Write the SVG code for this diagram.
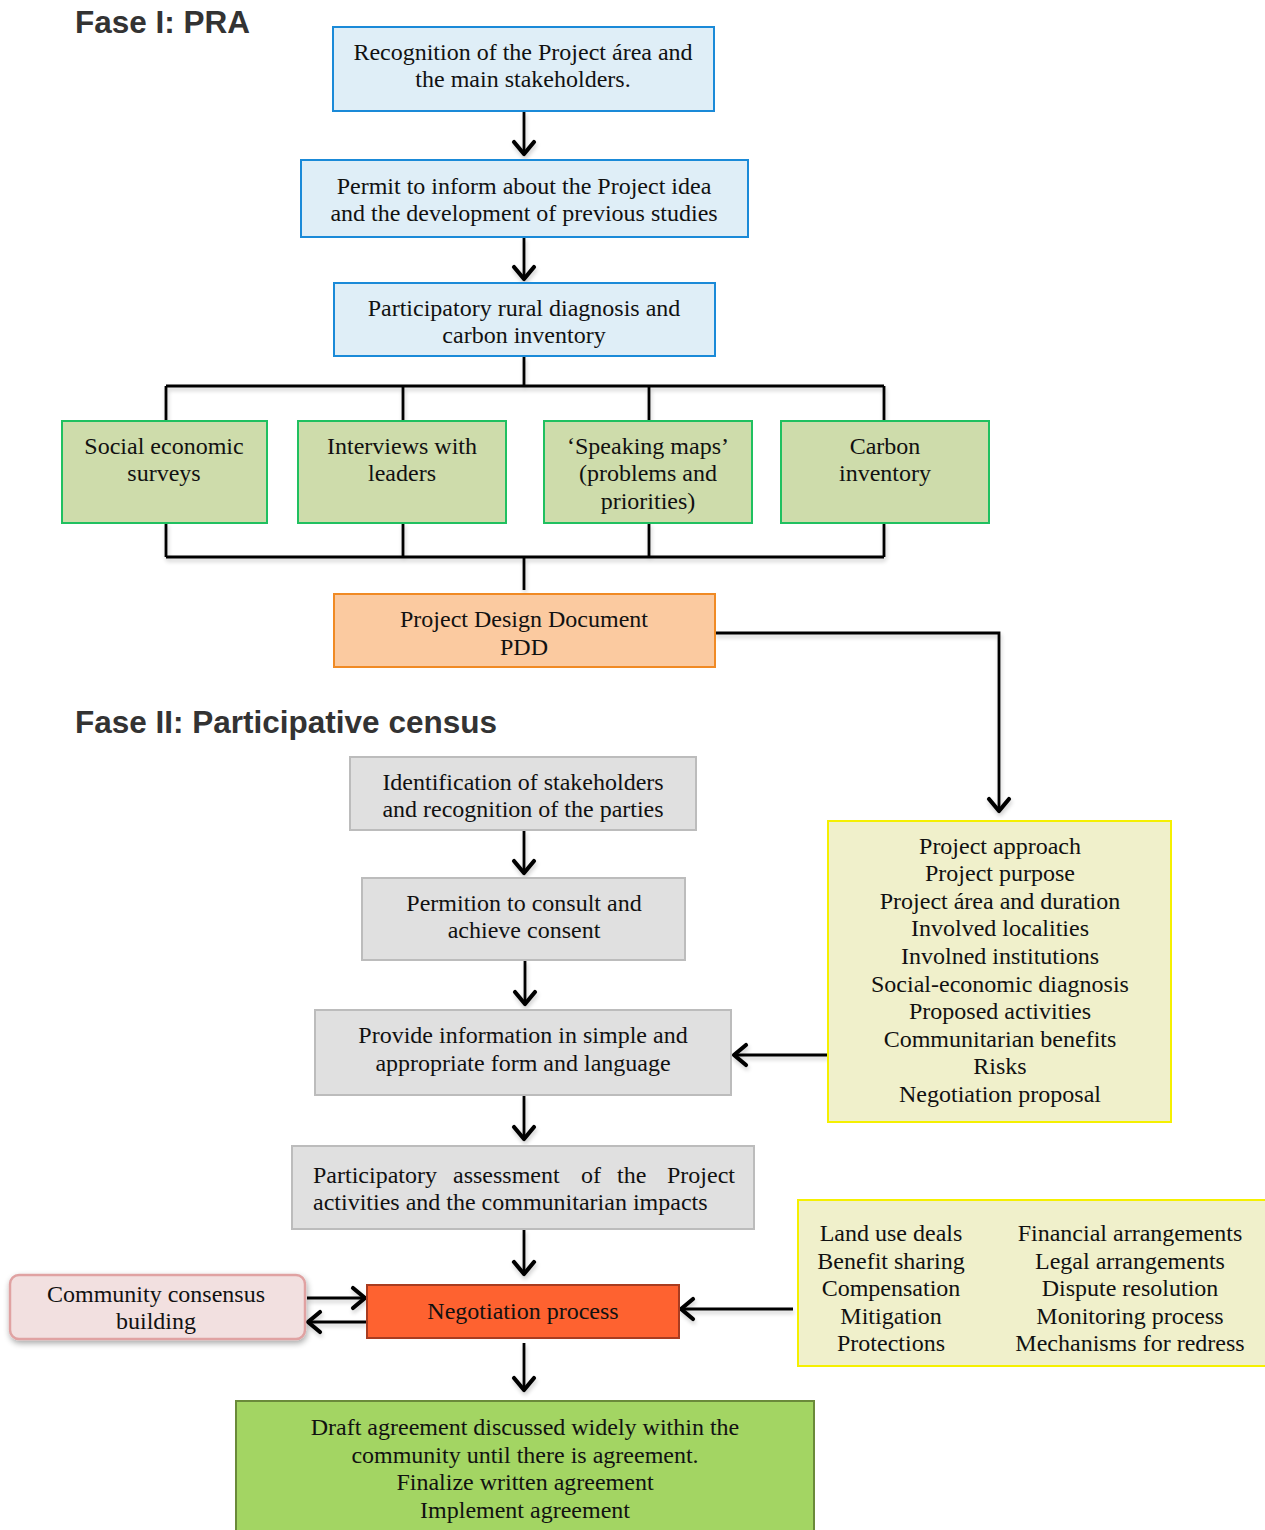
<svg xmlns="http://www.w3.org/2000/svg" width="1265" height="1530" viewBox="0 0 1265 1530">
<style>
.t{font-family:"Liberation Serif","Times New Roman",serif;font-size:24px;fill:#111;text-anchor:middle}
.h{font-family:"Liberation Sans",Arial,sans-serif;font-size:31.5px;font-weight:bold;fill:#333}
.blue{fill:#dfeef7;stroke:#1a8ad8;stroke-width:2}
.green{fill:#cedcab;stroke:#20c060;stroke-width:2}
.gray{fill:#e0e0e0;stroke:#bcbcbc;stroke-width:2}
.yel{fill:#f0f0cb;stroke:#f5f000;stroke-width:2}
.c{fill:none;stroke:#000;stroke-width:2.8}
.a{fill:none;stroke:#000;stroke-width:2.8;marker-end:url(#v)}
</style>
<defs>
<marker id="v" markerUnits="userSpaceOnUse" orient="auto" markerWidth="30" markerHeight="30" refX="0" refY="0" viewBox="-16 -15 20 30" overflow="visible">
<path d="M-12,-10 L0,0 L-12,10" fill="none" stroke="#000" stroke-width="4.2" stroke-linecap="round" stroke-linejoin="round"/>
</marker>
<filter id="sh" x="-20%" y="-20%" width="150%" height="160%">
<feGaussianBlur in="SourceAlpha" stdDeviation="3"/>
<feOffset dx="1" dy="3" result="b"/>
<feComponentTransfer><feFuncA type="linear" slope="0.35"/></feComponentTransfer>
<feMerge><feMergeNode/><feMergeNode in="SourceGraphic"/></feMerge>
</filter>
<filter id="lsh" x="-5%" y="-5%" width="110%" height="120%">
<feGaussianBlur in="SourceAlpha" stdDeviation="2"/>
<feOffset dx="1" dy="3"/>
<feComponentTransfer><feFuncA type="linear" slope="0.2"/></feComponentTransfer>
<feMerge><feMergeNode/><feMergeNode in="SourceGraphic"/></feMerge>
</filter>
</defs>

<text class="h" x="75" y="33">Fase I: PRA</text>
<text class="h" x="75" y="733">Fase II: Participative census</text>

<g id="connectors">
<g filter="url(#lsh)">
<path class="a" d="M524,111 V154"/>
<path class="a" d="M524,237 V279"/>
<path class="c" d="M524,356 V386 M166,386 H884 M166,386 V421 M403,386 V421 M649,386 V421 M884,386 V421"/>
<path class="c" d="M166,523 V557 M403,523 V557 M649,523 V557 M884,523 V557 M166,557 H884 M524,557 V590"/>
<path class="a" d="M715,633 H999 V811"/>
<path class="a" d="M524,830 V873"/>
<path class="a" d="M525,960 V1004"/>
<path class="a" d="M524,1095 V1139"/>
<path class="a" d="M524,1229 V1274"/>
<path class="a" d="M828,1055 H734"/>
<path class="a" d="M307,1298 H365"/>
<path class="a" d="M366,1322 H308"/>
<path class="a" d="M793,1309 H681"/>
<path class="a" d="M524,1343 V1390"/>
</g>
</g>

<g id="n1"><rect class="blue" x="333" y="27" width="381" height="84"/>
<text class="t" x="523" y="60">Recognition of the Project área and</text>
<text class="t" x="523" y="87">the main stakeholders.</text></g>

<g id="n2"><rect class="blue" x="301" y="160" width="447" height="77"/>
<text class="t" x="524" y="194">Permit to inform about the Project idea</text>
<text class="t" x="524" y="221">and the development of previous studies</text></g>

<g id="n3"><rect class="blue" x="334" y="283" width="381" height="73"/>
<text class="t" x="524" y="316">Participatory rural diagnosis and</text>
<text class="t" x="524" y="343">carbon inventory</text></g>

<g id="g1"><rect class="green" x="62" y="421" width="205" height="102"/>
<text class="t" x="164" y="454">Social economic</text>
<text class="t" x="164" y="481">surveys</text></g>

<g id="g2"><rect class="green" x="298" y="421" width="208" height="102"/>
<text class="t" x="402" y="454">Interviews with</text>
<text class="t" x="402" y="481">leaders</text></g>

<g id="g3"><rect class="green" x="544" y="421" width="208" height="102"/>
<text class="t" x="648" y="454">‘Speaking maps’</text>
<text class="t" x="648" y="481">(problems and</text>
<text class="t" x="648" y="509">priorities)</text></g>

<g id="g4"><rect class="green" x="781" y="421" width="208" height="102"/>
<text class="t" x="885" y="454">Carbon</text>
<text class="t" x="885" y="481">inventory</text></g>

<g id="pdd"><rect x="334" y="594" width="381" height="73" fill="#fbcaa0" stroke="#f08a24" stroke-width="2"/>
<text class="t" x="524" y="627">Project Design Document</text>
<text class="t" x="524" y="655">PDD</text></g>

<g id="s1"><rect class="gray" x="350" y="757" width="346" height="73"/>
<text class="t" x="523" y="790">Identification of stakeholders</text>
<text class="t" x="523" y="817">and recognition of the parties</text></g>

<g id="s2"><rect class="gray" x="362" y="878" width="323" height="82"/>
<text class="t" x="524" y="911">Permition to consult and</text>
<text class="t" x="524" y="938">achieve consent</text></g>

<g id="s3"><rect class="gray" x="315" y="1010" width="416" height="85"/>
<text class="t" x="523" y="1043">Provide information in simple and</text>
<text class="t" x="523" y="1071">appropriate form and language</text></g>

<g id="s4"><rect class="gray" x="292" y="1146" width="462" height="83"/>
<text class="t" y="1183" style="text-anchor:start"><tspan x="313">Participatory</tspan><tspan x="453">assessment</tspan><tspan x="581">of</tspan><tspan x="617">the</tspan><tspan x="667">Project</tspan></text>
<text class="t" x="313" y="1210" style="text-anchor:start">activities and the communitarian impacts</text></g>

<g id="neg"><rect x="367" y="1285" width="312" height="53" fill="#fe6230" stroke="#a83c20" stroke-width="2"/>
<text class="t" x="523" y="1319">Negotiation process</text></g>

<g id="cons"><rect x="10" y="1275" width="295" height="64" rx="9" fill="#f2e0e0" stroke="#e0a2a2" stroke-width="2.5" filter="url(#sh)"/>
<text class="t" x="156" y="1302">Community consensus</text>
<text class="t" x="156" y="1329">building</text></g>

<g id="final"><rect x="236" y="1401" width="578" height="140" fill="#a3d563" stroke="#6a8a3a" stroke-width="2"/>
<text class="t" x="525" y="1435">Draft agreement discussed widely within the</text>
<text class="t" x="525" y="1463">community until there is agreement.</text>
<text class="t" x="525" y="1490">Finalize written agreement</text>
<text class="t" x="525" y="1518">Implement agreement</text></g>

<g id="y1"><rect class="yel" x="828" y="821" width="343" height="301"/>
<text class="t" x="1000" y="854">Project approach</text>
<text class="t" x="1000" y="881">Project purpose</text>
<text class="t" x="1000" y="909">Project área and duration</text>
<text class="t" x="1000" y="936">Involved localities</text>
<text class="t" x="1000" y="964">Involned institutions</text>
<text class="t" x="1000" y="992">Social-economic diagnosis</text>
<text class="t" x="1000" y="1019">Proposed activities</text>
<text class="t" x="1000" y="1047">Communitarian benefits</text>
<text class="t" x="1000" y="1074">Risks</text>
<text class="t" x="1000" y="1102">Negotiation proposal</text></g>

<g id="y2"><rect class="yel" x="798" y="1200" width="475" height="166"/>
<text class="t" x="891" y="1241">Land use deals</text>
<text class="t" x="891" y="1269">Benefit sharing</text>
<text class="t" x="891" y="1296">Compensation</text>
<text class="t" x="891" y="1324">Mitigation</text>
<text class="t" x="891" y="1351">Protections</text>
<text class="t" x="1130" y="1241">Financial arrangements</text>
<text class="t" x="1130" y="1269">Legal arrangements</text>
<text class="t" x="1130" y="1296">Dispute resolution</text>
<text class="t" x="1130" y="1324">Monitoring process</text>
<text class="t" x="1130" y="1351">Mechanisms for redress</text></g>
</svg>
